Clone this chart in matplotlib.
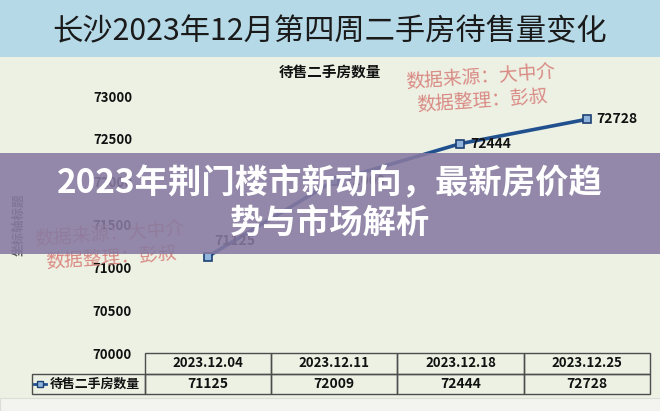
import matplotlib
matplotlib.use("Agg")
import matplotlib.pyplot as plt
from matplotlib.patches import Rectangle
from matplotlib.table import Table

plt.rcParams['font.family'] = ['Noto Sans CJK SC', 'DejaVu Sans']

# data
dates = ['2023.12.04', '2023.12.11', '2023.12.18', '2023.12.25']
counts = [71125, 72009, 72444, 72728]
series_name = '待售二手房数量'
yticks = [70000, 70500, 71000, 71500, 72000, 72500, 73000]

title = '长沙2023年12月第四周二手房待售量变化'
overlay_lines = ['2023年荆门楼市新动向，最新房价趋', '势与市场解析']
watermark = '数据来源：大中介\n数据整理：彭叔'

W, H = 660, 411
fig = plt.figure(figsize=(W / 100, H / 100), dpi=100)
fig.patch.set_facecolor('#edf1e4')

# light blue title band and the pale strip at the bottom
fig.add_artist(Rectangle((0, 1 - 57 / H), 1, 57 / H, transform=fig.transFigure,
                         facecolor='#b6d9e8', edgecolor='none', zorder=0))
fig.add_artist(Rectangle((0, 0), 1, 13 / H, transform=fig.transFigure,
                         facecolor='#f3f4ef', edgecolor='#dcded6', lw=0.8, zorder=0))
fig.text(0.5, 1 - 32 / H, title, ha='center', va='center', fontsize=21.8, color='#1a1a1a')

# plot area
ax = fig.add_axes([144.5 / W, 58 / H, 505.5 / W, 257 / H])
ax.set_facecolor('none')
for s in ax.spines.values():
    s.set_visible(False)
ax.set_xlim(-0.5, len(dates) - 0.5)
ax.set_ylim(yticks[0], yticks[-1])
ax.set_xticks([])
ax.set_yticks(yticks)
ax.set_yticklabels([str(t) for t in yticks], fontsize=9.5, fontweight='bold', color='#111111')
ax.tick_params(axis='y', length=0, pad=9)

xs = list(range(len(dates)))
ax.plot(xs, counts, color='#21508e', lw=2.6, marker='s', ms=6,
        mfc='#8fb5dc', mec='#1d3f73', mew=1.2, clip_on=False, zorder=3)
for i, v in enumerate(counts):
    off = (5, 11) if i == 0 else (7, 0)
    ax.annotate(str(v), (i, v), xytext=off, textcoords='offset points',
                ha='left', va='center', fontsize=10, fontweight='bold', color='#111111')

fig.text(330 / W, 1 - 72 / H, series_name, ha='center', va='center',
         fontsize=10.5, fontweight='bold', color='#111111')

# data table under the axis (bbox covers the data columns only)
lab_w = 112.5 / 505.5
tb = Table(ax, bbox=[0, -41 / 257, 1, 41 / 257])
for j, d in enumerate(dates):
    tb.add_cell(0, j, width=1 / len(dates), height=0.5, text=d, loc='center',
                facecolor='none', edgecolor='#4d4d4d')
    tb.add_cell(1, j, width=1 / len(dates), height=0.5, text=str(counts[j]), loc='center',
                facecolor='none', edgecolor='#4d4d4d')
lab = tb.add_cell(1, -1, width=lab_w, height=0.5, text=series_name, loc='right',
                  facecolor='none', edgecolor='#4d4d4d')
lab.PAD = 0.04
tb.auto_set_font_size(False)
for (r, c), cell in tb.get_celld().items():
    cell.set_linewidth(1.0)
    cell.get_text().set_fontweight('bold')
    cell.get_text().set_color('#111111')
    cell.get_text().set_fontsize(9.5 if r == 0 else 10)
lab.get_text().set_fontsize(9.3)
ax.add_table(tb)

# legend key inside the label cell
ky = -31 / 257
ax.plot([-0.2186, -0.2067, -0.1949], [ky, ky, ky], transform=ax.transAxes,
        color='#21508e', lw=2, marker='s', ms=5, markevery=[1],
        mfc='#8fb5dc', mec='#1d3f73', mew=1, clip_on=False)

fig.text(19 / W, 1 - 225 / H, '坐标轴标题', rotation=90, ha='center', va='center',
         fontsize=9, fontweight='bold', color='#5a5a5a')

# red watermarks
fig.text(481 / W, 1 - 88 / H, watermark, ha='center', va='center', multialignment='center',
         rotation=4, fontsize=13.5, color='#d98a84', linespacing=1.15, zorder=3)
fig.text(110 / W, 1 - 245 / H, watermark, ha='center', va='center', multialignment='center',
         rotation=4, fontsize=13.5, color='#d98a84', linespacing=1.15, zorder=3)

# translucent headline band on top
fig.add_artist(Rectangle((0, 1 - 254 / H), 1, 101 / H, transform=fig.transFigure,
                         facecolor=(0.53, 0.48, 0.63, 0.88), edgecolor='none', zorder=5))
fig.text(0.5, 1 - 184 / H, overlay_lines[0], ha='center', va='center',
         fontsize=24, fontweight='bold', color='white', zorder=6)
fig.text(0.5, 1 - 224 / H, overlay_lines[1], ha='center', va='center',
         fontsize=24, fontweight='bold', color='white', zorder=6)

fig.savefig('out.png', dpi=100)
